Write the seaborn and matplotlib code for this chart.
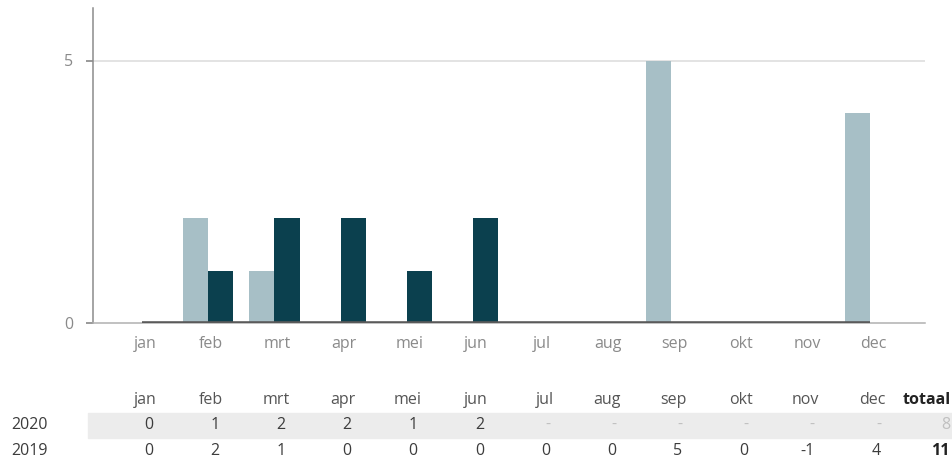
import matplotlib
matplotlib.use("Agg")
import matplotlib.pyplot as plt
import matplotlib.patches as mpatches
import matplotlib.transforms as mtransforms
import seaborn as sns
import pandas as pd

months = ["jan", "feb", "mrt", "apr", "mei", "jun", "jul", "aug", "sep", "okt", "nov", "dec"]
values_2019 = [0, 2, 1, 0, 0, 0, 0, 0, 5, 0, -1, 4]
values_2020 = [0, 1, 2, 2, 1, 2, None, None, None, None, None, None]
baseline = [0, 0, 0, 0, 0, 0, 0, 0, 0, 0, 0, 0]
total_2019 = 11
total_2020 = 8

COL_2019 = "#a7bfc6"
COL_2020 = "#0b404e"
TXT = "#8a8a8a"
DARK = "#3c3c3c"
FONT = ["Open Sans", "DejaVu Sans"]

sns.set_theme(style="white")
plt.rcParams["font.family"] = FONT

rows = []
for m, v in zip(months, values_2019):
    rows.append({"maand": m, "jaar": "2019", "aantal": v})
for m, v in zip(months, values_2020):
    if v is not None:
        rows.append({"maand": m, "jaar": "2020", "aantal": v})
df = pd.DataFrame(rows)

W, H = 953, 459
fig = plt.figure(figsize=(W / 100, H / 100), dpi=100)
left, right, top, bottom = 93, 925, 8, 323
ax = fig.add_axes([left / W, 1 - bottom / H, (right - left) / W, (bottom - top) / H])

sns.barplot(data=df, x="maand", y="aantal", hue="jaar", order=months,
            hue_order=["2019", "2020"], palette=[COL_2019, COL_2020],
            saturation=1, width=0.76, linewidth=0, errorbar=None, ax=ax,
            legend=False)

# flat reference line along zero, drawn across the months
ax.plot(range(len(months)), baseline, color="#5a5a5a", lw=2.6,
        solid_capstyle="butt", zorder=3)

ax.set_xlim(-0.74, 11.83)
ax.set_ylim(0, 6)
ax.set_yticks([0, 5])
ax.set_xlabel("")
ax.set_ylabel("")
ax.axhline(5, color="#dedede", lw=1.2, zorder=0)
for s in ["top", "right"]:
    ax.spines[s].set_visible(False)
ax.spines["left"].set_color("#8c8c8c")
ax.spines["bottom"].set_color("#b0b0b0")
ax.spines["left"].set_linewidth(1.1)
ax.spines["bottom"].set_linewidth(1.1)
ax.tick_params(axis="y", left=True, length=5, color="#8c8c8c", labelcolor=TXT,
               labelsize=11.5, pad=9)
ax.tick_params(axis="x", bottom=False, labelcolor=TXT, labelsize=11.5, pad=3)
shift = mtransforms.ScaledTranslation(3 / 100, 0, fig.dpi_scale_trans)
for lbl in ax.get_xticklabels():
    lbl.set_transform(lbl.get_transform() + shift)

# summary table below the chart
def fx(px):
    return px / W

def fy(py):
    return 1 - py / H

fig.patches.append(mpatches.Rectangle((fx(88), fy(438)), fx(953 - 88), (438 - 413) / H,
                                      transform=fig.transFigure, color="#ececec",
                                      zorder=0))

FS = 11.5
col_right = [157 + 66.2 * i for i in range(len(months))]
for i, m in enumerate(months):
    fig.text(fx(col_right[i]), fy(400), m, ha="right", va="center",
             color="#555555", fontsize=FS)
fig.text(fx(951), fy(400), "totaal", ha="right", va="center", color="#222222",
         fontsize=FS, fontweight="bold")

fig.text(fx(11), fy(425), "2020", ha="left", va="center", color=DARK, fontsize=FS)
fig.text(fx(11), fy(451), "2019", ha="left", va="center", color=DARK, fontsize=FS)

for i, v in enumerate(values_2020):
    x = fx(col_right[i] - 4)
    if v is None:
        fig.text(x, fy(425), "-", ha="right", va="center", color="#c0c0c0", fontsize=FS)
    else:
        fig.text(x, fy(425), str(v), ha="right", va="center", color=DARK, fontsize=FS)
fig.text(fx(950), fy(425), str(total_2020), ha="right", va="center",
         color="#c0c0c0", fontsize=FS)

for i, v in enumerate(values_2019):
    fig.text(fx(col_right[i] - 4), fy(451), str(v), ha="right", va="center",
             color=DARK, fontsize=FS)
fig.text(fx(950), fy(451), str(total_2019), ha="right", va="center",
         color="#222222", fontsize=FS, fontweight="bold")

fig.savefig("out.png", dpi=100, facecolor="white")
